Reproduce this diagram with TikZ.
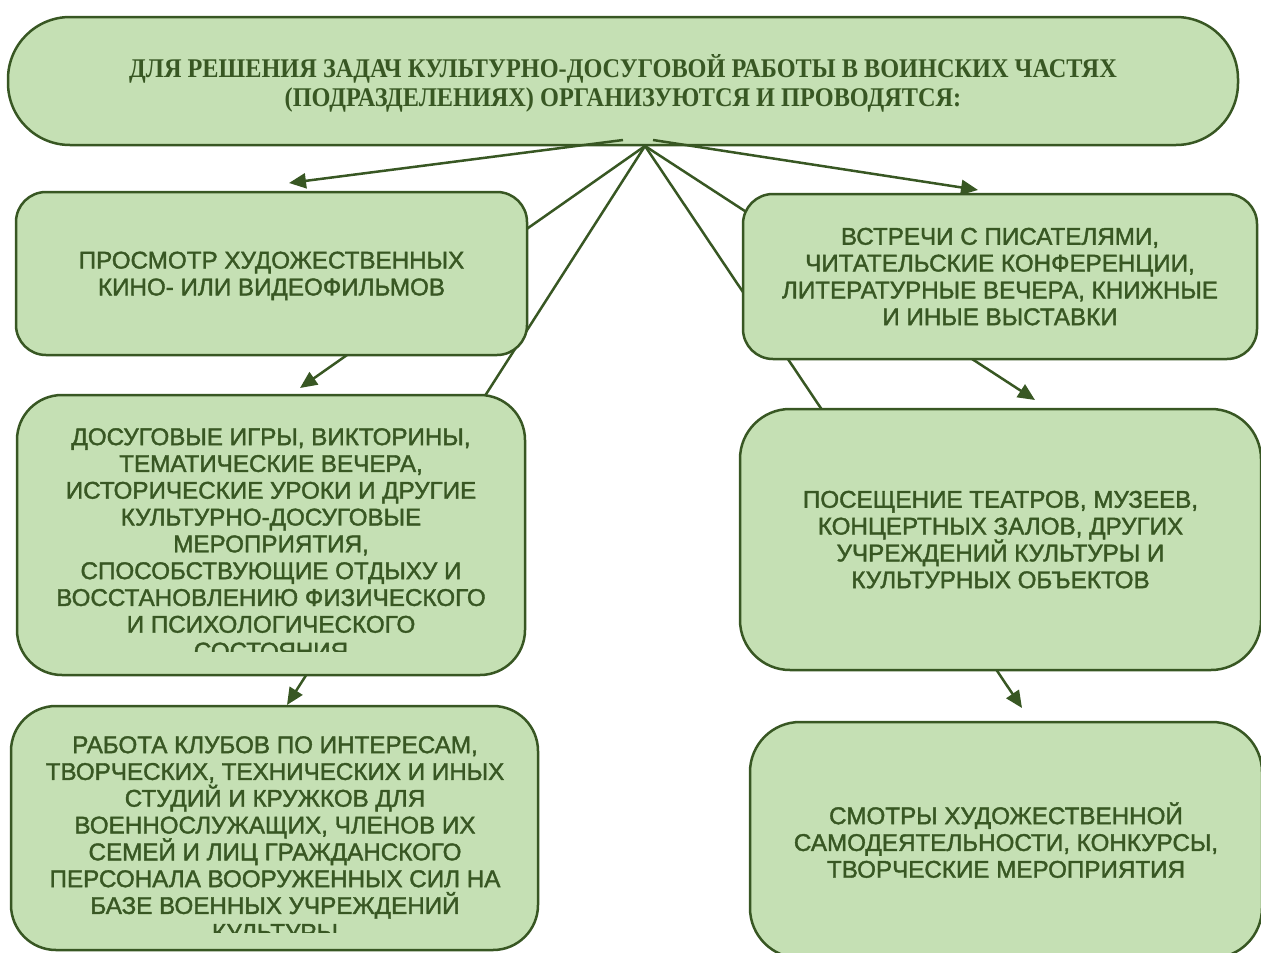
\documentclass[tikz,border=0pt]{standalone}
\usepackage{fontspec}
\setmainfont{Liberation Sans}
\newfontfamily\headfont{Liberation Serif}[FakeStretch=0.9]
\newfontfamily\boxfont{Liberation Sans}[FakeBold=1.6]
\usetikzlibrary{arrows.meta}
\definecolor{fillg}{HTML}{C5E0B4}
\definecolor{darkg}{HTML}{385723}
\begin{document}
\begin{tikzpicture}[x=1pt,y=-1pt,
  box/.style={draw=darkg, line width=2.5pt, fill=fillg, text=darkg, align=center, inner sep=0pt,
    text depth=0pt, font=\boxfont\fontsize{24.2}{26.8}\selectfont},
  txt/.style={text=darkg, align=center, inner sep=0pt, font=\boxfont\fontsize{24.2}{26.8}\selectfont},
  conn/.style={draw=darkg, line width=2.5pt, -{Triangle[length=17pt,width=15pt]}},
]
\useasboundingbox (0,0) rectangle (1261,953);

\node[box, rounded corners=62pt, minimum width=1230pt, minimum height=128pt,
  font=\headfont\bfseries\fontsize{27}{29}\selectfont] (top) at (623,81)
  {ДЛЯ РЕШЕНИЯ ЗАДАЧ КУЛЬТУРНО-ДОСУГОВОЙ РАБОТЫ В ВОИНСКИХ ЧАСТЯХ\\(ПОДРАЗДЕЛЕНИЯХ) ОРГАНИЗУЮТСЯ И ПРОВОДЯТСЯ:};

\coordinate (s1) at (623,140);
\coordinate (s2) at (653,140);
\coordinate (apex) at (645,146);
\coordinate (e1) at (289,183);
\coordinate (e4) at (978,190);
\coordinate (e2) at (300,388);
\coordinate (e3) at (287,705);
\coordinate (e5) at (1035,400);
\coordinate (e6) at (1022,708);

\draw[conn] (s1) -- (e1);
\draw[conn] (s2) -- (e4);
\draw[conn] (apex) -- (e2);
\draw[conn] (apex) -- (e3);
\draw[conn] (apex) -- (e5);
\draw[conn] (apex) -- (e6);

\node[box, rounded corners=30pt, minimum width=511pt, minimum height=163pt] (b1) at (271.5,273.5)
  {ПРОСМОТР ХУДОЖЕСТВЕННЫХ\\КИНО- ИЛИ ВИДЕОФИЛЬМОВ};
\node[box, rounded corners=45pt, minimum width=508pt, minimum height=280pt] (b2) at (271,535) {};
\node[box, rounded corners=45pt, minimum width=527pt, minimum height=244pt] (b3) at (274.5,828) {};
\node[box, rounded corners=30pt, minimum width=514pt, minimum height=165pt] (b4) at (1000,276.5)
  {ВСТРЕЧИ С ПИСАТЕЛЯМИ,\\ЧИТАТЕЛЬСКИЕ КОНФЕРЕНЦИИ,\\ЛИТЕРАТУРНЫЕ ВЕЧЕРА, КНИЖНЫЕ\\И ИНЫЕ ВЫСТАВКИ};
\node[box, rounded corners=50pt, minimum width=521pt, minimum height=261pt] (b5) at (1000.5,539.5)
  {ПОСЕЩЕНИЕ ТЕАТРОВ, МУЗЕЕВ,\\КОНЦЕРТНЫХ ЗАЛОВ, ДРУГИХ\\УЧРЕЖДЕНИЙ КУЛЬТУРЫ И\\КУЛЬТУРНЫХ ОБЪЕКТОВ};
\node[box, rounded corners=50pt, minimum width=512pt, minimum height=236pt] (b6) at (1006,840)
  {СМОТРЫ ХУДОЖЕСТВЕННОЙ\\САМОДЕЯТЕЛЬНОСТИ, КОНКУРСЫ,\\ТВОРЧЕСКИЕ МЕРОПРИЯТИЯ};

\begin{scope}
  \clip (17,395) rectangle (525,651);
  \node[txt, anchor=north] (t2) at (271,428)
    {ДОСУГОВЫЕ ИГРЫ, ВИКТОРИНЫ,\\ТЕМАТИЧЕСКИЕ ВЕЧЕРА,\\ИСТОРИЧЕСКИЕ УРОКИ И ДРУГИЕ\\КУЛЬТУРНО-ДОСУГОВЫЕ\\МЕРОПРИЯТИЯ,\\СПОСОБСТВУЮЩИЕ ОТДЫХУ И\\ВОССТАНОВЛЕНИЮ ФИЗИЧЕСКОГО\\И ПСИХОЛОГИЧЕСКОГО\\СОСТОЯНИЯ};
\end{scope}
\begin{scope}
  \clip (11,706) rectangle (538,932);
  \node[txt, anchor=north] (t3) at (275,736)
    {РАБОТА КЛУБОВ ПО ИНТЕРЕСАМ,\\ТВОРЧЕСКИХ, ТЕХНИЧЕСКИХ И ИНЫХ\\СТУДИЙ И КРУЖКОВ ДЛЯ\\ВОЕННОСЛУЖАЩИХ, ЧЛЕНОВ ИХ\\СЕМЕЙ И ЛИЦ ГРАЖДАНСКОГО\\ПЕРСОНАЛА ВООРУЖЕННЫХ СИЛ НА\\БАЗЕ ВОЕННЫХ УЧРЕЖДЕНИЙ\\КУЛЬТУРЫ};
\end{scope}
\end{tikzpicture}
\end{document}
